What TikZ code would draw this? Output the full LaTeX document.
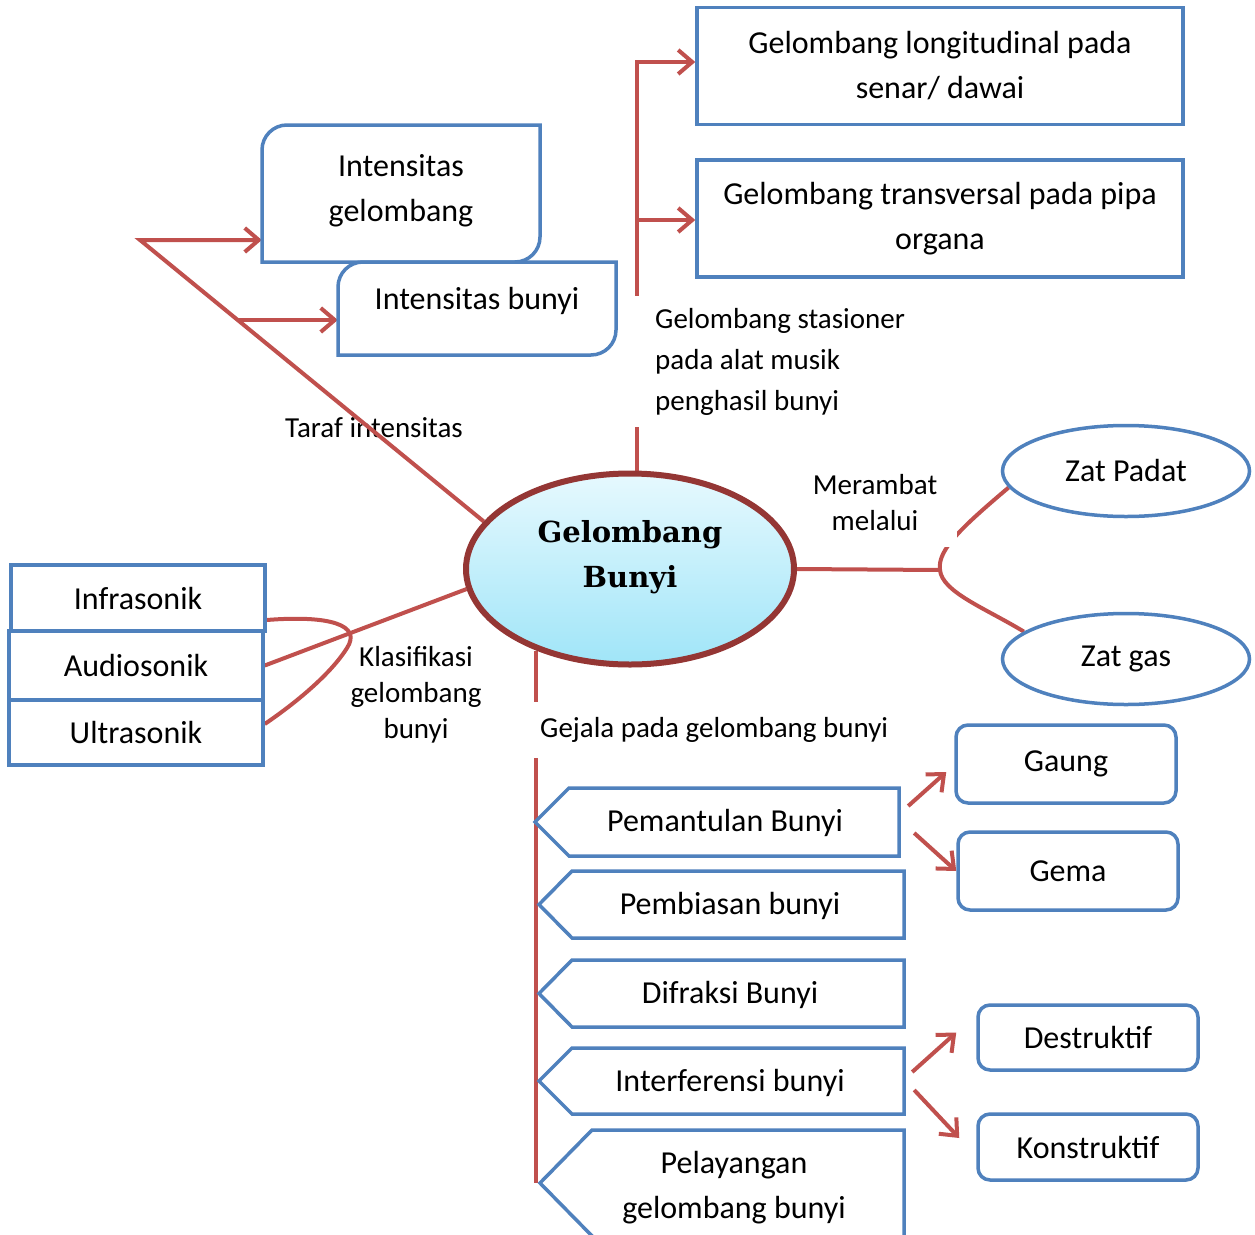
\documentclass[tikz,border=0pt]{standalone}
\usepackage{fontspec}
\newfontfamily\cf{Carlito}
\newfontfamily\dvs{DejaVu Serif}
\usetikzlibrary{arrows.meta,shapes.geometric}
\definecolor{lred}{HTML}{C0504D}
\definecolor{lblue}{HTML}{4F81BD}
\definecolor{dred}{HTML}{943634}
\definecolor{ctop}{HTML}{E6F9FE}
\definecolor{cbot}{HTML}{A0E5F8}
\pgfdeclarelayer{bg}
\pgfsetlayers{bg,main}
\begin{document}
\begin{tikzpicture}[x=1pt,y=-1pt,
 conn/.style={draw=lred,line width=4pt},
 arr/.style={draw=lred,line width=4pt,-{Straight Barb[length=14pt,width=24pt]}},
 bx/.style={draw=lblue,line width=3.5pt,fill=white,inner sep=0pt},
 hid/.style={inner sep=0pt},
 bt/.style={font=\cf\fontsize{32}{45}\selectfont,align=center},
 lb/.style={font=\cf\fontsize{29}{41}\selectfont},
 lbs/.style={font=\cf\fontsize{29}{36}\selectfont,align=center},
]
\begin{pgfonlayer}{bg}
\fill[white] (0,0) rectangle (1255,1234);
\end{pgfonlayer}
\useasboundingbox (0,0) rectangle (1255,1234);

% ---------- top-left boxes ----------
\draw[bx] (262,262) -- (262,150) .. controls (262,136.2) and (273.2,125) .. (287,125)
  -- (540,125) -- (540,237) .. controls (540,250.8) and (528.8,262) .. (515,262) -- cycle;
\node[hid,bt,minimum width=278pt] (ig) at (401,191) {Intensitas\\gelombang};
\draw[bx] (338,355) -- (338,287) .. controls (338,273.2) and (349.2,262) .. (363,262)
  -- (616,262) -- (616,330) .. controls (616,343.8) and (604.8,355) .. (591,355) -- cycle;
\node[hid,bt,minimum width=278pt] (ib) at (477,301) {Intensitas bunyi};

% ---------- top-right boxes ----------
\node[bx,bt,minimum width=486pt,minimum height=117pt] (gl) at (940,66) {Gelombang longitudinal pada\\senar/ dawai};
\node[bx,bt,minimum width=486pt,minimum height=117pt] (gt) at (940,218.5) {Gelombang transversal pada pipa\\organa};

\node[lb,align=left,fill=white,anchor=north west,inner xsep=23pt,inner ysep=12pt] (gs) at (632,296) {Gelombang stasioner\\pada alat musik\\penghasil bunyi};

% ---------- right ellipses ----------
\node[ellipse,draw=lblue,line width=3.5pt,fill=white,minimum width=247pt,minimum height=91pt,inner sep=0pt,font=\cf\fontsize{32}{45}\selectfont] (zp) at (1126,471) {Zat Padat};
\node[ellipse,draw=lblue,line width=3.5pt,fill=white,minimum width=247pt,minimum height=91pt,inner sep=0pt,font=\cf\fontsize{32}{45}\selectfont] (zg) at (1126,659) {\raisebox{-3pt}{Zat gas}};
\node[lbs,fill=white,inner xsep=20pt,inner ysep=16pt] (mr) at (875,503) {Merambat\\melalui};

% ---------- left boxes ----------
\node[bx,bt,minimum width=254pt,minimum height=66pt] (inf) at (138,598) {Infrasonik};
\node[bx,bt,minimum width=254pt,minimum height=69pt] (au) at (136,665.5) {Audiosonik};
\node[bx,bt,minimum width=254pt,minimum height=65pt] (ul) at (136,732.5) {\raisebox{-2pt}{Ultrasonik}};
\node[lbs] (kl) at (416,695) {Klasifikasi\\gelombang\\bunyi};

% ---------- bottom ----------
\node[lb,fill=white,anchor=west,inner xsep=9pt,inner ysep=15pt] (gj) at (531,730) {Gejala pada gelombang bunyi};

\draw[bx] (569,788) -- (899,788) -- (899,856) -- (569,856) -- (535,822) -- cycle;
\node[hid,bt,minimum width=348pt] (pm) at (725,823) {Pemantulan Bunyi};
\draw[bx] (572,871) -- (904,871) -- (904,938) -- (572,938) -- (539,904.5) -- cycle;
\node[hid,bt,minimum width=348pt] (pb) at (730,906) {Pembiasan bunyi};
\draw[bx] (572,960) -- (904,960) -- (904,1027) -- (572,1027) -- (539,993.5) -- cycle;
\node[hid,bt,minimum width=348pt] (df) at (730,995) {Difraksi Bunyi};
\draw[bx] (572,1048) -- (904,1048) -- (904,1114) -- (572,1114) -- (539,1081) -- cycle;
\node[hid,bt,minimum width=348pt] (it) at (730,1083) {Interferensi bunyi};
\draw[bx] (592,1130) -- (904,1130) -- (904,1240) -- (596,1240) -- (540,1183) -- cycle;
\node[hid,bt,minimum width=340pt] (pl) at (734,1188) {Pelayangan\\gelombang bunyi};
\coordinate (pltip) at (540,1183);

\node[bx,bt,rounded corners=12pt,minimum width=220pt,minimum height=78pt] (ga) at (1066,764) {\raisebox{-2pt}{Gaung}};
\node[bx,bt,rounded corners=12pt,minimum width=220pt,minimum height=78pt] (ge) at (1068,871) {Gema};
\node[bx,bt,rounded corners=12pt,minimum width=220pt,minimum height=65pt] (de) at (1088,1037.5) {\raisebox{-3pt}{Destruktif}};
\node[bx,bt,rounded corners=12pt,minimum width=220pt,minimum height=66pt] (ko) at (1088,1147) {\raisebox{-3pt}{Konstruktif}};

% ---------- centre ----------
\node[ellipse,draw=dred,line width=6pt,top color=ctop,bottom color=cbot,minimum width=328pt,minimum height=191pt,inner sep=0pt] (gb) at (630,569) {};
\node[font=\dvs\bfseries\fontsize{29}{45}\selectfont,align=center] (gbt) at (630,557) {Gelombang\\Bunyi};

% ---------- connectors ----------
\coordinate (tl) at (140,240);
\coordinate (tl2) at (237,320);
\coordinate (va) at (637,62);
\coordinate (vb) at (637,220);
\coordinate (mj) at (940,570);
\begin{pgfonlayer}{bg}
\node[lb] (tf) at (374,428) {Taraf intensitas};
\draw[arr] (gb.162) -- (tl) -- (tl -| ig.west);
\draw[arr] (tl2) -- (tl2 -| ib.west);
\draw[arr] (gb.north -| va) -- (va) -- (va -| gl.west);
\draw[arr] (vb) -- (vb -| gt.west);
\draw[conn] (gb.east) -- (mj);
\draw[conn] (mj) .. controls (937,550) and (962,527) .. (zp.188);
\draw[conn] (mj) .. controls (942,592) and (985,608) .. (zg.165);
\draw[conn] (au.east) -- (gb.187);
\draw[conn] ([yshift=-22pt]inf.east) .. controls (330,615) and (362,625) .. (347,648)
  .. controls (332,672) and (300,700) .. ([yshift=8.5pt]ul.east);
\draw[conn] (gb.221) -- (gb.221 |- pltip);
\draw[arr] ([xshift=9pt,yshift=17pt]pm.east) -- ([xshift=-8pt,yshift=-8pt]ga.west);
\draw[arr] ([xshift=15pt,yshift=-10pt]pm.east) -- (ge.west);
\draw[arr] ([xshift=8pt,yshift=11pt]it.east) -- ([xshift=-20pt,yshift=5pt]de.west);
\draw[arr] ([xshift=10pt,yshift=-7pt]it.east) -- ([xshift=-17pt,yshift=9pt]ko.west);
\end{pgfonlayer}
\end{tikzpicture}
\end{document}
